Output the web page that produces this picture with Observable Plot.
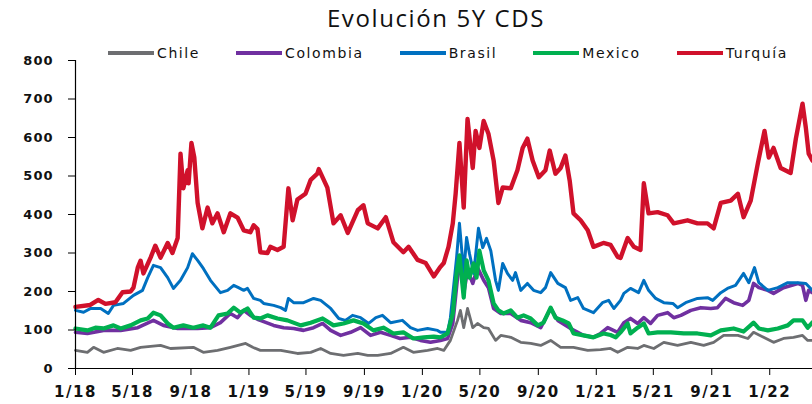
<!DOCTYPE html>
<html><head><meta charset="utf-8">
<script src="https://cdn.jsdelivr.net/npm/d3@7"></script>
<script src="https://cdn.jsdelivr.net/npm/@observablehq/plot@0.6"></script>
<style>
body{margin:0;background:#fff;}
#wrap{position:relative;width:812px;height:404px;overflow:hidden;background:#fff;}
#title{position:absolute;left:436px;top:1px;transform:translateX(-50%);white-space:nowrap;
  font-family:"Open Sans",sans-serif;font-size:24px;letter-spacing:1.6px;color:#111;}
#legend{position:absolute;left:108px;top:45px;display:flex;gap:36px;align-items:center;
  font-family:"DejaVu Sans",sans-serif;font-size:14px;letter-spacing:1.6px;color:#111;}
.item{display:flex;align-items:center;gap:3px;}
.sw{width:46px;height:4px;}
#chart{position:absolute;left:0;top:0;}
</style></head>
<body><div id="wrap"><div id="chart"></div><div id="title">Evolución 5Y CDS</div><div id="legend"></div></div>
<script>
const countries = ["Chile","Colombia","Brasil","Mexico","Turquía"];
const colors = ["#6d6e71","#7030a0","#0070c0","#00b050","#d0112b"];
const yTicks = [0,100,200,300,400,500,600,700,800];
const xTickLabels = ["1/18","5/18","9/18","1/19","5/19","9/19","1/20","5/20","9/20","1/21","5/21","9/21","1/22"];

const chile = [
["2018-01-01",47],["2018-01-26",42],["2018-02-08",55],["2018-03-01",42],["2018-03-30",52],["2018-04-27",47],
["2018-05-18",55],["2018-06-29",60],["2018-07-20",52],["2018-09-06",55],["2018-09-27",42],["2018-10-27",47],
["2018-11-23",55],["2018-12-25",65],["2019-01-09",55],["2019-01-25",47],["2019-03-09",47],["2019-04-13",39],
["2019-05-11",42],["2019-06-01",52],["2019-06-22",39],["2019-07-19",34],["2019-08-18",39],["2019-09-08",34],
["2019-09-29",34],["2019-10-26",39],["2019-11-22",55],["2019-12-13",42],["2020-01-12",47],["2020-02-02",52],
["2020-02-15",47],["2020-02-29",73],["2020-03-15",125],["2020-03-21",151],["2020-03-28",106],["2020-04-05",156],
["2020-04-16",106],["2020-04-26",117],["2020-05-09",106],["2020-05-19",104],["2020-06-03",73],["2020-06-14",86],
["2020-07-05",81],["2020-07-26",68],["2020-08-16",65],["2020-09-06",60],["2020-09-27",73],["2020-10-18",55],
["2020-11-14",55],["2020-12-14",47],["2021-01-10",49],["2021-01-31",52],["2021-02-15",42],["2021-03-08",55],
["2021-03-29",52],["2021-04-11",60],["2021-05-02",52],["2021-05-23",68],["2021-06-21",60],["2021-07-19",68],
["2021-08-15",60],["2021-09-05",68],["2021-09-26",86],["2021-10-26",86],["2021-11-16",78],["2021-11-28",94],
["2021-12-19",81],["2022-01-09",68],["2022-01-30",78],["2022-02-20",81],["2022-03-11",86],["2022-03-22",73],
["2022-04-01",73]];

const colombia = [
["2018-01-01",94],["2018-01-26",91],["2018-03-01",99],["2018-04-06",99],["2018-05-12",106],["2018-06-14",125],
["2018-07-05",112],["2018-08-04",104],["2018-09-15",104],["2018-10-12",106],["2018-11-02",119],["2018-11-23",143],
["2018-12-08",132],["2018-12-21",151],["2019-01-04",138],["2019-01-19",128],["2019-01-25",125],["2019-02-22",112],
["2019-03-15",106],["2019-04-05",104],["2019-04-26",99],["2019-05-17",106],["2019-06-05",117],["2019-06-22",99],
["2019-07-13",86],["2019-08-03",94],["2019-08-24",106],["2019-09-14",86],["2019-10-05",94],["2019-10-26",86],
["2019-11-15",78],["2019-12-07",81],["2019-12-28",73],["2020-01-18",68],["2020-02-08",73],["2020-02-23",78],
["2020-03-05",117],["2020-03-15",236],["2020-03-21",281],["2020-03-28",195],["2020-04-05",255],["2020-04-16",221],
["2020-04-26",262],["2020-05-09",229],["2020-05-19",210],["2020-05-30",156],["2020-06-14",143],["2020-07-05",143],
["2020-07-26",125],["2020-08-16",119],["2020-09-06",106],["2020-09-27",156],["2020-10-12",125],["2020-11-08",104],
["2020-12-05",86],["2020-12-26",81],["2021-01-10",91],["2021-01-25",106],["2021-02-15",94],["2021-02-28",119],
["2021-03-14",130],["2021-03-29",117],["2021-04-11",132],["2021-04-25",117],["2021-05-10",138],["2021-05-31",145],
["2021-06-13",132],["2021-06-28",138],["2021-07-19",151],["2021-08-09",158],["2021-08-30",156],["2021-09-13",158],
["2021-09-30",182],["2021-10-17",171],["2021-11-05",164],["2021-11-18",177],["2021-11-28",221],["2021-12-09",210],
["2021-12-28",203],["2022-01-09",195],["2022-01-30",210],["2022-03-01",221],["2022-03-11",216],["2022-03-18",177],
["2022-03-24",203],["2022-04-01",197]];

const brasil = [
["2018-01-01",151],["2018-01-18",146],["2018-02-02",156],["2018-02-23",156],["2018-03-11",143],["2018-03-22",164],
["2018-04-12",169],["2018-05-03",190],["2018-05-22",203],["2018-06-02",236],["2018-06-14",268],["2018-06-29",262],
["2018-07-14",236],["2018-07-26",208],["2018-08-10",229],["2018-08-25",262],["2018-09-04",298],["2018-09-15",281],
["2018-09-27",260],["2018-10-12",229],["2018-11-02",197],["2018-11-17",203],["2018-11-30",216],["2018-12-10",210],
["2018-12-21",203],["2018-12-29",208],["2019-01-11",182],["2019-01-25",177],["2019-02-01",169],["2019-02-22",164],
["2019-03-09",158],["2019-03-19",151],["2019-03-25",182],["2019-04-05",171],["2019-04-26",171],["2019-05-17",182],
["2019-06-01",177],["2019-06-22",156],["2019-07-09",130],["2019-07-23",125],["2019-08-07",138],["2019-08-24",132],
["2019-09-10",117],["2019-09-25",132],["2019-10-09",138],["2019-10-26",119],["2019-11-20",125],["2019-12-07",106],
["2019-12-22",99],["2020-01-12",104],["2020-02-02",99],["2020-02-08",94],["2020-02-23",94],["2020-02-29",132],
["2020-03-13",288],["2020-03-19",377],["2020-03-28",247],["2020-04-03",340],["2020-04-09",299],["2020-04-18",247],
["2020-04-28",364],["2020-05-07",314],["2020-05-15",338],["2020-05-24",306],["2020-06-03",229],["2020-06-09",203],
["2020-06-18",273],["2020-06-28",247],["2020-07-09",229],["2020-07-15",249],["2020-07-26",203],["2020-08-09",221],
["2020-08-22",203],["2020-09-06",197],["2020-09-16",210],["2020-09-27",249],["2020-10-12",221],["2020-10-28",210],
["2020-11-08",177],["2020-11-23",184],["2020-12-05",156],["2020-12-26",145],["2021-01-14",171],["2021-01-27",177],
["2021-02-07",156],["2021-02-21",177],["2021-02-28",195],["2021-03-14",208],["2021-03-31",197],["2021-04-11",229],
["2021-04-21",203],["2021-05-06",182],["2021-05-23",171],["2021-06-11",169],["2021-06-21",158],["2021-07-08",171],
["2021-08-02",182],["2021-08-23",184],["2021-09-03",177],["2021-09-20",197],["2021-10-04",208],["2021-10-21",216],
["2021-11-01",236],["2021-11-07",247],["2021-11-18",223],["2021-11-30",262],["2021-12-09",223],["2021-12-28",203],
["2022-01-18",210],["2022-02-08",223],["2022-03-01",223],["2022-03-18",221],["2022-04-01",203]];

const mexico = [
["2018-01-01",104],["2018-01-26",99],["2018-02-12",106],["2018-03-01",104],["2018-03-22",112],["2018-04-06",104],
["2018-04-27",112],["2018-05-18",125],["2018-06-02",130],["2018-06-14",145],["2018-06-29",138],["2018-07-14",117],
["2018-07-26",106],["2018-08-16",112],["2018-09-06",106],["2018-09-27",112],["2018-10-12",106],["2018-10-29",138],
["2018-11-17",143],["2018-11-30",158],["2018-12-14",145],["2018-12-29",156],["2019-01-11",132],["2019-01-25",130],
["2019-02-09",138],["2019-03-02",130],["2019-03-23",125],["2019-04-20",112],["2019-05-11",119],["2019-06-05",130],
["2019-06-28",112],["2019-07-19",117],["2019-08-09",125],["2019-08-30",117],["2019-09-20",99],["2019-10-11",106],
["2019-11-01",91],["2019-11-22",94],["2019-12-13",78],["2020-01-04",81],["2020-01-25",83],["2020-02-08",81],
["2020-02-23",91],["2020-03-05",143],["2020-03-13",247],["2020-03-19",294],["2020-03-28",184],["2020-04-03",281],
["2020-04-09",236],["2020-04-18",273],["2020-04-24",236],["2020-04-30",306],["2020-05-09",255],["2020-05-19",229],
["2020-05-30",169],["2020-06-09",151],["2020-06-20",143],["2020-07-05",151],["2020-07-19",132],["2020-08-01",138],
["2020-08-16",130],["2020-08-31",112],["2020-09-12",119],["2020-09-27",158],["2020-10-07",132],["2020-10-22",125],
["2020-11-04",117],["2020-11-14",91],["2020-12-05",86],["2020-12-26",81],["2021-01-16",91],["2021-01-31",87],
["2021-02-11",81],["2021-02-21",94],["2021-03-08",117],["2021-03-14",91],["2021-03-29",106],["2021-04-11",117],
["2021-04-21",91],["2021-05-10",94],["2021-06-07",94],["2021-07-04",91],["2021-08-02",91],["2021-08-30",86],
["2021-09-20",99],["2021-10-17",104],["2021-11-07",96],["2021-11-28",119],["2021-12-09",104],["2021-12-28",99],
["2022-01-18",104],["2022-02-08",112],["2022-02-20",125],["2022-03-11",125],["2022-03-22",106],["2022-04-01",120]];

const turquia = [
["2018-01-01",160],["2018-02-01",165],["2018-02-18",178],["2018-03-05",168],["2018-03-26",172],["2018-04-10",198],
["2018-04-27",200],["2018-05-03",210],["2018-05-12",262],["2018-05-18",280],["2018-05-24",247],["2018-06-08",288],
["2018-06-18",319],["2018-06-29",288],["2018-07-14",326],["2018-07-24",300],["2018-08-04",339],["2018-08-10",558],
["2018-08-16",468],["2018-08-25",515],["2018-08-27",481],["2018-09-02",586],["2018-09-08",548],["2018-09-15",430],
["2018-09-25",364],["2018-10-06",418],["2018-10-16",377],["2018-10-27",403],["2018-11-09",354],["2018-11-23",403],
["2018-12-08",392],["2018-12-21",359],["2019-01-04",354],["2019-01-11",372],["2019-01-19",362],["2019-01-25",302],
["2019-02-09",300],["2019-02-15",316],["2019-03-02",308],["2019-03-15",316],["2019-03-25",468],["2019-04-03",385],
["2019-04-13",439],["2019-04-30",454],["2019-05-11",490],["2019-05-25",506],["2019-05-28",518],["2019-06-15",470],
["2019-06-28",377],["2019-07-13",398],["2019-07-28",352],["2019-08-18",411],["2019-08-30",424],["2019-09-08",377],
["2019-09-29",364],["2019-10-16",393],["2019-11-01",328],["2019-11-22",302],["2019-12-03",316],["2019-12-22",282],
["2020-01-08",274],["2020-01-25",239],["2020-02-08",264],["2020-02-15",274],["2020-02-25",316],["2020-03-05",377],
["2020-03-11",454],["2020-03-19",586],["2020-03-28",418],["2020-04-05",648],["2020-04-16",521],["2020-04-22",617],
["2020-04-30",573],["2020-05-09",643],["2020-05-19",610],["2020-05-30",540],["2020-06-09",430],["2020-06-18",470],
["2020-07-05",468],["2020-07-19",515],["2020-07-30",573],["2020-08-09",597],["2020-08-20",540],["2020-09-02",497],
["2020-09-16",515],["2020-09-25",566],["2020-10-07",506],["2020-10-18",521],["2020-10-28",553],["2020-11-06",488],
["2020-11-14",403],["2020-11-29",385],["2020-12-14",359],["2020-12-26",316],["2021-01-16",326],["2021-01-31",321],
["2021-02-15",290],["2021-02-21",287],["2021-03-08",339],["2021-03-21",316],["2021-04-04",308],["2021-04-11",481],
["2021-04-21",403],["2021-05-10",406],["2021-05-31",398],["2021-06-13",377],["2021-07-12",385],["2021-08-02",377],
["2021-08-23",377],["2021-09-05",364],["2021-09-20",430],["2021-10-11",436],["2021-10-26",454],["2021-11-07",393],
["2021-11-22",436],["2021-12-07",533],["2021-12-21",617],["2021-12-30",548],["2022-01-09",573],["2022-01-24",521],
["2022-02-14",508],["2022-02-25",597],["2022-03-11",688],["2022-03-18",625],["2022-03-24",558],["2022-04-01",540]];

const seriesData = [chile, colombia, brasil, mexico, turquia];
const strokeWidths = [2.8, 3.6, 3, 4.2, 4.4];

const rows = countries.flatMap((c, i) => seriesData[i].map(([d, v]) => ({country: c, date: new Date(d + "T00:00:00Z"), value: v})));
const xTicks = xTickLabels.map(s => { const [m, y] = s.split("/").map(Number); return new Date(Date.UTC(2000 + y, m - 1, 1)); });
const fmt = new Map(xTicks.map((d, i) => [+d, xTickLabels[i]]));

const chart = Plot.plot({
  width: 812, height: 404,
  marginTop: 60, marginBottom: 36, marginLeft: 75, marginRight: 0,
  style: {background: "transparent", overflow: "visible"},
  x: {type: "utc", domain: [new Date(Date.UTC(2018, 0, 1)), new Date(Date.UTC(2022, 3, 1))]},
  y: {domain: [0, 800]},
  marks: [
    ...countries.map((c, i) => Plot.line(rows.filter(r => r.country === c), {
      x: "date", y: "value", stroke: colors[i], strokeWidth: strokeWidths[i], strokeLinejoin: "round", strokeLinecap: "round"
    })),
    Plot.ruleY([0], {stroke: "#000", strokeWidth: 1.2}),
    Plot.ruleX([new Date(Date.UTC(2018, 0, 1))], {stroke: "#000", strokeWidth: 1.2}),
    Plot.axisY({ticks: yTicks, tickSize: 7, tickPadding: 15, tickFormat: d => String(d), label: null,
      fontSize: 13, fontWeight: "bold", fontFamily: "DejaVu Sans", fill: "#111"}),
    Plot.axisX({ticks: xTicks, tickSize: 7, tickPadding: 11, tickFormat: d => fmt.get(+d), label: null,
      fontSize: 15, fontWeight: "bold", fontFamily: "DejaVu Sans", fill: "#111"})
  ]
});
chart.querySelectorAll("g[aria-label='y-axis tick label']").forEach(e => e.style.letterSpacing = "1px");
chart.querySelectorAll("g[aria-label='x-axis tick label']").forEach(e => e.style.letterSpacing = "1.5px");
document.getElementById("chart").appendChild(chart);

const legend = document.getElementById("legend");
countries.forEach((c, i) => {
  const it = document.createElement("div"); it.className = "item";
  const sw = document.createElement("div"); sw.className = "sw"; sw.style.background = colors[i];
  const tx = document.createElement("span"); tx.textContent = c;
  it.appendChild(sw); it.appendChild(tx); legend.appendChild(it);
});
</script></body></html>
